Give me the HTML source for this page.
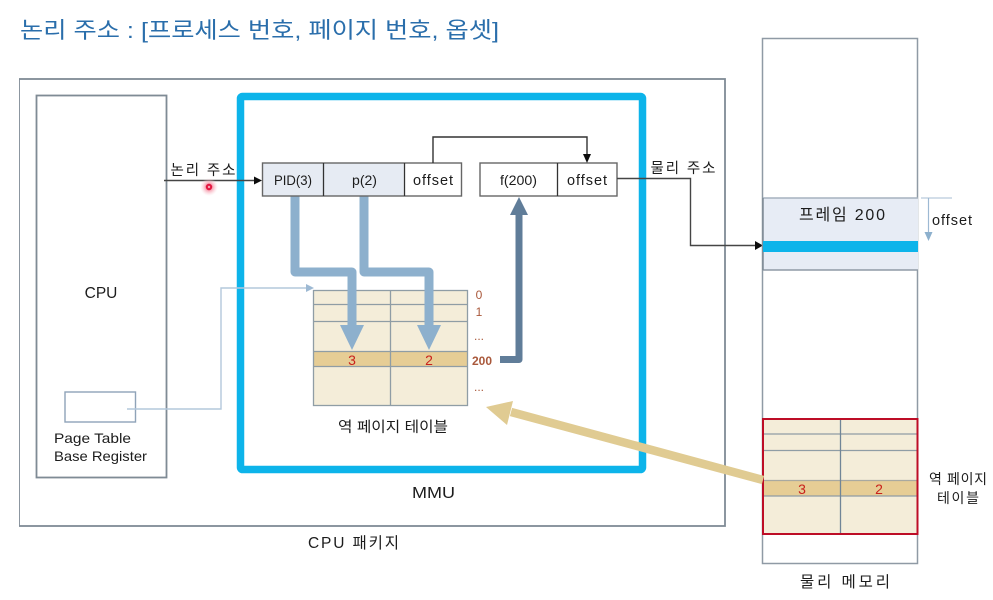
<!DOCTYPE html>
<html lang="ko"><head><meta charset="utf-8"><title>역 페이지 테이블</title>
<style>
html,body{margin:0;padding:0;background:#fff;width:993px;height:600px;overflow:hidden}
svg{display:block}
text{font-family:"Liberation Sans","Noto Sans CJK KR",sans-serif;fill:#1c1c1c}
</style></head><body>
<svg width="993" height="600" viewBox="0 0 993 600" xmlns="http://www.w3.org/2000/svg">
<defs>
<filter id="soft" x="0" y="0" width="100%" height="100%"><feGaussianBlur stdDeviation="0.3"/></filter>
<radialGradient id="glow"><stop offset="0.3" stop-color="#f58fa3"/><stop offset="1" stop-color="#fbd5dc" stop-opacity="0"/></radialGradient>
</defs>
<rect width="993" height="600" fill="#fff"/>
<g filter="url(#soft)">
<text x="20" y="38" font-size="22.5" style="fill:#2a6eab" textLength="479" lengthAdjust="spacingAndGlyphs">논리 주소 : [프로세스 번호, 페이지 번호, 옵셋]</text>

<!-- package / cpu -->
<rect x="19" y="79" width="706" height="447" fill="#fff" stroke="#7f8b95" stroke-width="1.8"/>
<rect x="36.5" y="95.5" width="130" height="382" fill="#fff" stroke="#7f8b95" stroke-width="1.8"/>
<text x="101" y="298" font-size="15.5" text-anchor="middle">CPU</text>
<rect x="65" y="392" width="70.500" height="30" fill="#fff" stroke="#8fa3b8" stroke-width="1.4"/>
<text x="54" y="443" font-size="14" textLength="77" lengthAdjust="spacingAndGlyphs">Page Table</text>
<text x="54" y="461" font-size="14" textLength="93" lengthAdjust="spacingAndGlyphs">Base Register</text>

<!-- MMU -->
<rect x="240.500" y="96.500" width="402" height="373" rx="2" fill="none" stroke="#10b4ea" stroke-width="7.500"/>
<text x="412" y="498" font-size="15.500" textLength="43" lengthAdjust="spacingAndGlyphs">MMU</text>
<text x="308" y="548" font-size="15.500" textLength="91" lengthAdjust="spacing">CPU 패키지</text>

<!-- PTBR link -->
<polyline points="127,409 221,409 221,288 307,288" fill="none" stroke="#b3c8dc" stroke-width="1.4"/>
<polygon points="314,288 306,284 306,292" fill="#9db9d3"/>

<!-- inner table -->
<rect x="313" y="290" width="154" height="115" fill="#f4edd9"/>
<rect x="313" y="352" width="154" height="15" fill="#e6cd95"/>
<g stroke="#8f9da5" stroke-width="1.300" fill="none">
<rect x="313.500" y="290.500" width="154" height="115"/>
<line x1="390.500" y1="290" x2="390.500" y2="406"/>
<line x1="313" y1="304.500" x2="467" y2="304.500"/>
<line x1="313" y1="321.500" x2="467" y2="321.500"/>
<line x1="313" y1="351.500" x2="467" y2="351.500"/>
<line x1="313" y1="366.500" x2="467" y2="366.500"/>
</g>
<text x="352" y="365" font-size="14" text-anchor="middle" style="fill:#c9201a">3</text>
<text x="429" y="365" font-size="14" text-anchor="middle" style="fill:#c9201a">2</text>
<g font-size="12">
<text x="479" y="299" text-anchor="middle" style="fill:#a9583a">0</text>
<text x="479" y="316" text-anchor="middle" style="fill:#a9583a">1</text>
<text x="479" y="340" text-anchor="middle" style="fill:#a9583a">...</text>
<text x="482" y="365" text-anchor="middle" font-weight="bold" style="fill:#a9583a">200</text>
<text x="479" y="391" text-anchor="middle" style="fill:#a9583a">...</text>
</g>
<text x="393" y="432" font-size="14.500" text-anchor="middle" textLength="110" lengthAdjust="spacingAndGlyphs">역 페이지 테이블</text>

<!-- thick blue arrows -->
<g fill="none" stroke="#8db0cd" stroke-width="9" stroke-linejoin="round">
<polyline points="295,196 295,272 352,272 352,328"/>
<polyline points="364,196 364,272 429,272 429,328"/>
</g>
<polygon points="340,325 364,325 352,350" fill="#8db0cd"/>
<polygon points="417,325 441,325 429,350" fill="#8db0cd"/>

<!-- dark arrow -->
<polyline points="500,359.500 519,359.500 519,212" fill="none" stroke="#607d99" stroke-width="7" stroke-linejoin="round"/>
<polygon points="519,197 528,215 510,215" fill="#607d99"/>

<!-- address boxes -->
<rect x="262.500" y="163" width="141" height="33" fill="#e6ebf3"/>
<rect x="262.500" y="163" width="199" height="33" fill="none" stroke="#666" stroke-width="1.400"/>
<line x1="323.500" y1="163" x2="323.500" y2="196" stroke="#333" stroke-width="1.300"/>
<line x1="404.500" y1="163" x2="404.500" y2="196" stroke="#333" stroke-width="1.300"/>
<text x="274" y="185" font-size="14" textLength="38" lengthAdjust="spacingAndGlyphs">PID(3)</text>
<text x="352" y="185" font-size="14" textLength="25" lengthAdjust="spacingAndGlyphs">p(2)</text>
<text x="413" y="185" font-size="14.500" textLength="40" lengthAdjust="spacing">offset</text>
<rect x="480" y="163" width="137" height="33" fill="#fff" stroke="#666" stroke-width="1.400"/>
<line x1="557.500" y1="163" x2="557.500" y2="196" stroke="#333" stroke-width="1.300"/>
<text x="500" y="185" font-size="14" textLength="37" lengthAdjust="spacingAndGlyphs">f(200)</text>
<text x="567" y="185" font-size="14.500" textLength="40" lengthAdjust="spacing">offset</text>

<!-- connectors -->
<polyline points="433,163 433,137 587,137 587,156" fill="none" stroke="#333" stroke-width="1.400"/>
<polygon points="587,163 583,154 591,154" fill="#111"/>
<line x1="164" y1="180.500" x2="255" y2="180.500" stroke="#444" stroke-width="1.400"/>
<polygon points="262,180.500 254,176.500 254,184.500" fill="#111"/>
<text x="203" y="175" font-size="14.500" text-anchor="middle" textLength="65" lengthAdjust="spacing">논리 주소</text>
<polyline points="617,178.500 690.500,178.500 690.500,245.500 756,245.500" fill="none" stroke="#444" stroke-width="1.400"/>
<polygon points="763,245.500 755,241 755,250" fill="#111"/>
<text x="683" y="173" font-size="14.500" text-anchor="middle" textLength="65" lengthAdjust="spacing">물리 주소</text>

<!-- pointer -->
<circle cx="209" cy="187" r="9" fill="url(#glow)"/>
<circle cx="209" cy="187" r="3.200" fill="#e3173f"/>
<circle cx="209" cy="187" r="1.200" fill="#f7a3b3"/>

<!-- memory -->
<rect x="762.500" y="38.500" width="155" height="525" fill="#fff" stroke="#8f9aa5" stroke-width="1.500"/>
<rect x="763" y="198" width="155" height="72" fill="#e7ecf5"/>
<line x1="763" y1="198" x2="918" y2="198" stroke="#a5b2bf" stroke-width="1.500"/>
<line x1="763" y1="270" x2="918" y2="270" stroke="#8f9aa5" stroke-width="1.500"/>
<line x1="763" y1="198" x2="763" y2="270" stroke="#7f8b95" stroke-width="1.500"/>
<rect x="763" y="241" width="155" height="11" fill="#10b4ea"/>
<text x="799" y="220" font-size="16" textLength="86" lengthAdjust="spacing">프레임 200</text>
<line x1="921" y1="198" x2="952" y2="198" stroke="#b9cbdc" stroke-width="1.200"/>
<line x1="928.500" y1="198" x2="928.500" y2="233" stroke="#9db9d3" stroke-width="1.200"/>
<polygon points="928.500,241 924.500,232 932.500,232" fill="#8db0cd"/>
<text x="932" y="225" font-size="14.500" textLength="40" lengthAdjust="spacing">offset</text>

<!-- memory table -->
<rect x="763" y="419" width="155" height="115" fill="#f4edd9"/>
<rect x="763" y="481" width="155" height="15" fill="#e6cd95"/>
<g stroke="#8f9da5" stroke-width="1.200">
<line x1="763" y1="434" x2="918" y2="434"/>
<line x1="763" y1="450.500" x2="918" y2="450.500"/>
<line x1="763" y1="480.500" x2="918" y2="480.500" stroke="#a9a9a0"/>
<line x1="763" y1="496" x2="918" y2="496"/>
<line x1="840.500" y1="419" x2="840.500" y2="534" stroke="#6f8597" stroke-width="1.300"/>
</g>
<rect x="763" y="419" width="154.500" height="115" fill="none" stroke="#bd1026" stroke-width="2"/>
<text x="802" y="494" font-size="14" text-anchor="middle" style="fill:#c9201a">3</text>
<text x="879" y="494" font-size="14" text-anchor="middle" style="fill:#c9201a">2</text>
<text x="958" y="484" font-size="14" text-anchor="middle" textLength="58" lengthAdjust="spacing">역 페이지</text>
<text x="958" y="503" font-size="14" text-anchor="middle" textLength="42" lengthAdjust="spacing">테이블</text>
<text x="845" y="587" font-size="15.500" text-anchor="middle" textLength="90" lengthAdjust="spacing">물리 메모리</text>

<!-- beige arrow -->
<line x1="511" y1="412" x2="763" y2="480" stroke="#e0cb92" stroke-width="8.500"/>
<polygon points="486,407 513,401 507,425" fill="#e0cb92"/>
</g>
</svg>
</body></html>
